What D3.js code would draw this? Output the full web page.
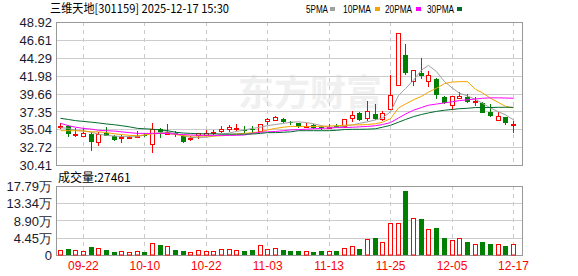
<!DOCTYPE html>
<html><head><meta charset="utf-8">
<script src="https://cdn.jsdelivr.net/npm/d3@7/dist/d3.min.js"></script>
<style>body{margin:0;background:#fff}svg{display:block}</style>
</head><body><svg id="c" width="578" height="276"></svg>
<script>
const dates = ["09-17","09-18","09-19","09-22","09-23","09-24","09-25","09-26","09-29","09-30","10-09","10-10","10-13","10-14","10-15","10-16","10-17","10-20","10-21","10-22","10-23","10-24","10-27","10-28","10-29","10-30","10-31","11-03","11-04","11-05","11-06","11-07","11-10","11-11","11-12","11-13","11-14","11-17","11-18","11-19","11-20","11-21","11-24","11-25","11-26","11-27","11-28","12-01","12-02","12-03","12-04","12-05","12-08","12-09","12-10","12-11","12-12","12-15","12-16","12-17"];
const open  = [35.45,35.45,34.35,34.25,34.43,33.35,34.6,34.13,33.9,33.95,34.15,34.3,33.1,35.04,34.45,34.55,34.15,33.85,34.2,34.4,34.55,34.8,35.0,35.05,35.0,35.05,34.8,36.0,36.25,36.4,35.95,35.8,35.45,35.6,35.3,35.25,35.4,35.35,36.4,37.1,36.4,36.95,36.3,37.6,40.75,44.65,41.25,42.35,41.25,41.5,39.15,38.15,39.2,39.15,38.6,38.5,37.25,36.2,36.6,35.7];
const high  = [35.8,35.6,35.2,35.2,34.65,34.65,35.3,34.35,34.3,34.2,34.8,34.5,35.8,35.25,35.7,34.85,34.3,34.1,34.6,34.95,34.95,35.4,35.6,35.7,35.5,35.5,35.75,36.45,36.8,36.55,36.1,35.85,35.9,35.75,35.5,35.7,35.7,36.35,37.4,37.25,38.75,38.3,37.35,42.0,47.45,46.05,42.7,44.2,42.6,41.65,39.3,39.35,39.9,39.6,39.2,38.6,38.25,37.3,36.65,36.05];
const low   = [35.05,34.07,34.07,34.15,32.26,32.9,34.1,33.5,33.3,33.85,34.04,34.0,31.95,33.9,34.3,34.0,33.3,33.5,33.8,34.2,34.3,34.55,34.65,34.75,34.6,34.6,34.75,35.65,36.05,35.9,35.6,35.15,35.24,35.1,34.95,35.1,35.15,35.25,36.0,36.1,36.15,36.25,36.15,37.5,40.7,42.05,40.7,41.55,40.45,38.9,38.3,37.55,38.95,38.45,38.05,37.1,36.6,36.05,35.6,34.6];
const close = [35.5,34.38,34.45,34.6,33.43,34.43,34.16,33.56,34.0,34.05,34.2,34.2,35.05,34.6,34.65,34.45,33.35,33.9,34.5,34.6,34.65,35.1,35.3,35.15,34.9,34.95,35.7,36.3,36.6,36.05,35.85,35.25,35.5,35.25,35.2,35.35,35.3,36.3,36.85,36.25,37.35,36.35,37.1,39.45,47.45,42.35,42.65,41.95,42.05,39.4,38.35,39.35,39.4,38.5,38.7,37.2,36.75,36.75,35.8,35.75];
const volume = [1.29,1.55,1.29,1.03,2.06,1.8,1.29,0.86,1.03,0.77,1.03,0.86,3.1,2.58,2.32,1.29,1.03,0.77,1.29,1.03,1.03,1.55,1.55,1.29,1.03,1.29,2.58,1.55,1.8,1.29,1.03,1.03,1.03,0.77,1.03,1.03,1.03,1.72,2.24,1.55,4.04,4.38,3.35,8.16,8.16,16.5,9.45,9.19,6.61,6.96,4.38,3.78,4.3,3.35,2.75,3.35,2.83,2.75,2.32,2.75];
const ma5  = [35.24,35.15,34.9,34.8,34.65,34.4,34.25,34.15,34.1,34.07,34.07,34.3,34.5,34.6,34.7,34.45,34.2,33.97,33.97,34.0,34.15,34.35,34.55,34.75,34.95,35.15,35.3,35.5,35.65,35.8,35.95,36.0,35.9,35.75,35.5,35.3,35.3,35.45,35.6,35.8,36.0,36.25,36.5,37.3,39.4,40.3,41.4,42.7,43.3,42.5,41.2,40.35,39.7,39.35,38.9,38.4,37.8,37.3,36.9,36.25];
const ma10 = [34.85,34.85,34.85,34.82,34.7,34.7,34.6,34.45,34.35,34.25,34.2,34.3,34.45,34.5,34.5,34.35,34.2,34.15,34.15,34.15,34.15,34.2,34.3,34.45,34.5,34.6,34.7,34.95,35.15,35.3,35.4,35.4,35.4,35.4,35.42,35.45,35.5,35.55,35.6,35.6,35.65,35.75,35.95,36.4,37.8,38.3,38.85,39.3,39.85,40.35,40.95,41.15,41.2,41.2,40.2,39.75,39.05,38.5,38.0,37.8];
const ma20 = [35.8,35.5,35.3,35.15,35.05,34.9,34.85,34.8,34.7,34.6,34.5,34.5,34.5,34.5,34.5,34.4,34.35,34.3,34.25,34.25,34.25,34.25,34.25,34.25,34.3,34.5,34.65,34.7,34.75,34.85,34.95,35.0,35.04,35.1,35.15,35.2,35.25,35.25,35.3,35.35,35.4,35.5,35.65,35.9,36.5,37.0,37.5,37.85,38.15,38.3,38.45,38.6,38.75,38.85,38.95,39.05,39.1,39.1,39.08,39.05];
const ma30 = [36.45,36.3,36.15,36.05,35.95,35.85,35.72,35.62,35.5,35.35,35.15,35.1,35.04,34.95,34.85,34.65,34.55,34.5,34.45,34.45,34.45,34.42,34.4,34.4,34.4,34.42,34.5,34.6,34.6,34.65,34.7,34.85,34.85,34.85,34.85,34.85,34.9,35.0,35.03,35.03,35.05,35.1,35.3,35.55,35.95,36.3,36.67,36.95,37.15,37.35,37.5,37.6,37.7,37.75,37.85,37.85,37.85,37.88,37.88,37.88];
const priceTicks = [30.41,32.72,35.04,37.35,39.66,41.98,44.29,46.61,48.92];
const volTicks = [0,4.45,8.90,13.34,17.79];
const volTickLabels = ["0","4.45万","8.90万","13.34万","17.79万"];
const xTickLabels = ["09-22","10-10","10-22","11-03","11-13","11-25","12-05","12-17"];
const maNames = ["5PMA","10PMA","20PMA","30PMA"];
const maColors = ["#a0a0a0","#f5a300","#ff00ff","#006b2e"];
const title = "三维天地[301159] 2025-12-17 15:30";
const volTitle = "成交量:27461";

const svg = d3.select("#c");
const L = 56, R = 522, PT = 22, PB = 165, VT = 186, VB = 255;
const RED = "#ff0000", GREEN = "#008000";

const x = d3.scaleBand().domain(dates).range([56, 56 + 60 * 7.68]);
const cx = d => Math.round(x(d) + x.bandwidth() / 2);
const y = d3.scaleLinear().domain([30.41, 48.92]).range([PB, PT]);
const yv = d3.scaleLinear().domain([0, 17.79]).range([VB, VT]);

// watermark
svg.append("text").attr("x", 238).attr("y", 106).attr("font-family", "Noto Sans CJK SC")
  .attr("font-size", 36).attr("font-weight", "bold").attr("fill", "#f0f0f0").text("东方财富");

// horizontal grids
function hgrid(scale, vals) {
  svg.append("g").selectAll("line").data(vals).join("line")
    .attr("x1", L).attr("x2", R)
    .attr("y1", d => Math.round(scale(d)) + 0.5).attr("y2", d => Math.round(scale(d)) + 0.5)
    .attr("stroke", "#cccccc");
}
hgrid(y, priceTicks);
hgrid(yv, volTicks);
// vertical dashed grids
[[PT, PB], [VT, VB]].forEach(([t, b]) => {
  svg.append("g").selectAll("line").data(xTickLabels).join("line")
    .attr("x1", d => cx(d) + 0.5).attr("x2", d => cx(d) + 0.5)
    .attr("y1", t).attr("y2", b).attr("stroke", "#cccccc").attr("stroke-dasharray", "4,4");
});

// frames
svg.append("rect").attr("x", L + 0.5).attr("y", PT + 0.5).attr("width", R - L).attr("height", PB - PT)
  .attr("fill", "none").attr("stroke", "#999");
svg.append("rect").attr("x", L + 0.5).attr("y", VT + 0.5).attr("width", R - L).attr("height", VB - VT)
  .attr("fill", "none").attr("stroke", "#999");

// axes
const yAxis = d3.axisLeft(y).tickValues(priceTicks).tickSize(0).tickPadding(4).tickFormat(d3.format(".2f"));
const ga = svg.append("g").attr("transform", `translate(${L},0.5)`).call(yAxis);
ga.select(".domain").remove();
ga.selectAll("text").attr("font-family", "Liberation Sans, Arial").attr("font-size", 13).attr("fill", "#1a1a2e");

const yvAxis = d3.axisLeft(yv).tickValues(volTicks).tickSize(0).tickPadding(4)
  .tickFormat((d, i) => volTickLabels[i]);
const gv = svg.append("g").attr("transform", `translate(${L},0.5)`).call(yvAxis);
gv.select(".domain").remove();
gv.selectAll("text").attr("font-family", "Liberation Sans, Arial").attr("font-size", 13).attr("fill", "#1a1a2e");

const xAxis = d3.axisBottom(x).tickValues(xTickLabels).tickSize(0).tickPadding(5);
const gx = svg.append("g").attr("transform", `translate(0.5,${VB + 1})`).call(xAxis);
gx.select(".domain").remove();
gx.selectAll("text").attr("font-family", "Liberation Sans, Arial").attr("font-size", 12).attr("fill", RED);

// candles
const idx = d3.range(dates.length);
const up = i => close[i] >= open[i];
const BW = 5;
const cg = svg.append("g");
cg.selectAll("line.w").data(idx).join("line")
  .attr("x1", i => cx(dates[i]) + 0.5).attr("x2", i => cx(dates[i]) + 0.5)
  .attr("y1", i => Math.round(y(high[i]))).attr("y2", i => Math.round(y(low[i])))
  .attr("stroke", i => up(i) ? RED : GREEN);
cg.selectAll("rect").data(idx).join("rect")
  .attr("x", i => cx(dates[i]) - 2 + (up(i) ? 0.5 : 0))
  .attr("y", i => Math.round(y(Math.max(open[i], close[i]))) + (up(i) ? 0.5 : 0))
  .attr("width", i => up(i) ? BW - 1 : BW)
  .attr("height", i => Math.max(1, Math.round(Math.abs(y(open[i]) - y(close[i])))))
  .attr("fill", i => up(i) ? "#fff" : GREEN)
  .attr("stroke", i => up(i) ? RED : "none");

// MA lines
[ma5, ma10, ma20, ma30].forEach((arr, k) => {
  const line = d3.line().x((v, i) => cx(dates[i]) + 0.5).y(v => y(v));
  svg.append("path").attr("d", line(arr)).attr("fill", "none").attr("stroke", maColors[k]).attr("stroke-width", 1);
});

// volume bars
svg.append("g").selectAll("rect").data(idx).join("rect")
  .attr("x", i => cx(dates[i]) - 2 + (up(i) ? 0.5 : 0))
  .attr("y", i => Math.round(yv(volume[i])) + (up(i) ? 0.5 : 0))
  .attr("width", i => up(i) ? BW - 1 : BW)
  .attr("height", i => Math.round(VB - yv(volume[i])) - (up(i) ? 0.5 : 0))
  .attr("fill", i => up(i) ? "#fff" : GREEN)
  .attr("stroke", i => up(i) ? RED : "none");

// title & legend
svg.append("text").attr("x", 50).attr("y", 13).attr("font-family", "Noto Sans CJK SC")
  .attr("font-size", 12).attr("fill", "#000")
  .attr("textLength", 179).attr("lengthAdjust", "spacingAndGlyphs").text(title);
const legX = [306, 343, 385, 427];
const legW = [22, 28, 27, 27];
const sqX = [330, 375, 416, 457];
maNames.forEach((n, k) => {
  svg.append("text").attr("x", legX[k]).attr("y", 13).attr("font-family", "Liberation Sans, Arial")
    .attr("font-size", 11).attr("fill", "#000")
    .attr("textLength", legW[k]).attr("lengthAdjust", "spacingAndGlyphs").text(n);
  svg.append("rect").attr("x", sqX[k]).attr("y", 7).attr("width", 5).attr("height", 4).attr("fill", maColors[k]);
});
svg.append("text").attr("x", 58).attr("y", 182).attr("font-family", "Noto Sans CJK SC")
  .attr("font-size", 12).attr("fill", "#000").text(volTitle);
</script></body></html>
